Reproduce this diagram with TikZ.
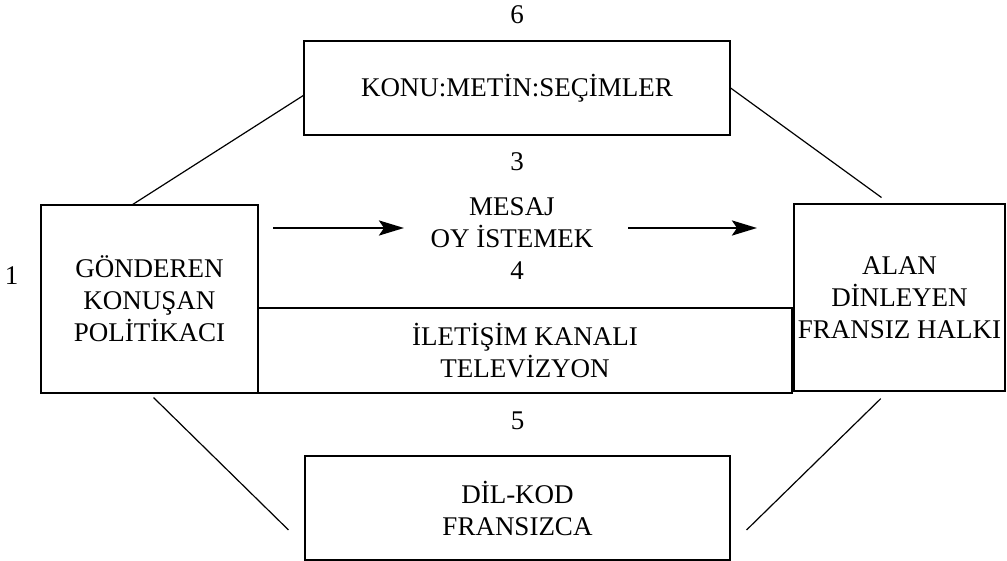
\documentclass[tikz,border=0pt]{standalone}
\usepackage{fontspec}
\setmainfont{Liberation Serif}
\usetikzlibrary{arrows.meta}
\usetikzlibrary{positioning}

\begin{document}
\begin{tikzpicture}[x=1pt,y=-1pt,line width=1.2pt,
  box/.style={draw,rectangle,align=center,inner sep=0pt,font=\fontsize{27}{32}\selectfont},
  tag/.style={inner sep=0pt,align=center,font=\fontsize{27}{32}\selectfont},
  flow/.style={-{Stealth[length=25pt,width=15pt,inset=5pt]},line width=2.6pt}]

  \useasboundingbox (0,0) rectangle (1007,561);

  \node[box,minimum width=426pt,minimum height=94pt] (konu) at (517,88) {KONU:METİN:SEÇİMLER};
  \node[box,minimum width=217pt,minimum height=188pt] (gonderen) at (149.5,299) {GÖNDEREN\\KONUŞAN\\POLİTİKACI};
  \node[box,minimum width=211pt,minimum height=187pt] (alan) at (899.5,297.5) {ALAN\\DİNLEYEN\\FRANSIZ HALKI};
  \node[box,minimum width=534pt,minimum height=85pt] (kanal) at (525,350.5) {İLETİŞİM KANALI\\TELEVİZYON};
  \node[box,minimum width=425pt,minimum height=104pt] (dil) at (517.5,508) {DİL-KOD\\FRANSIZCA};

  \node[tag] (mesaj) at (512,223) {MESAJ\\OY İSTEMEK};

  \node[tag] (n6) [above=16pt of konu] {6};
  \node[tag] (n3) [below=16pt of konu] {3};
  \node[tag] (n4) [above=27pt of kanal,xshift=-8pt] {4};
  \node[tag] (n5) [above=25pt of dil] {5};
  \node[tag] (n1) [left=21.5pt of gonderen,yshift=23pt] {1};

  \coordinate (m1) at (273,228);
  \coordinate (m2) at (404,228);
  \coordinate (m3) at (628,228);
  \coordinate (m4) at (757,228);
  \draw[flow] (m1) -- (m2);
  \draw[flow] (m3) -- (m4);

  \draw (gonderen.100) -- (konu.182);
  \draw[shorten >=10pt] (konu.east) -- (alan.96);
  \draw[shorten <=5.7pt,shorten >=22.4pt] (gonderen.south) -- (dil.190);
  \draw[shorten <=10pt,shorten >=22.4pt] (alan.263) -- (dil.350);
\end{tikzpicture}
\end{document}
